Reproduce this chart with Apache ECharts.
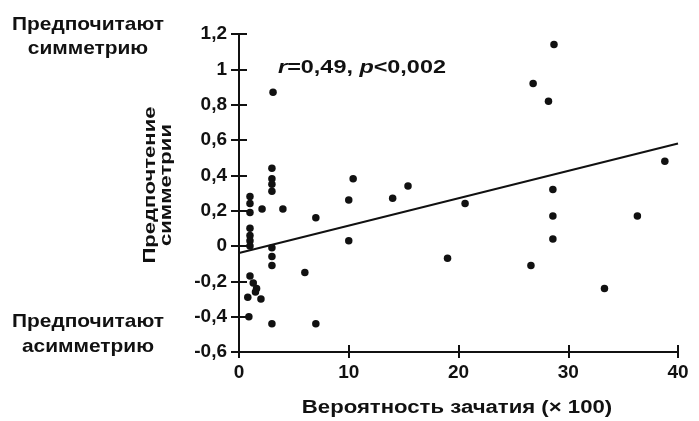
<!DOCTYPE html>
<html>
<head>
<meta charset="utf-8">
<script src="https://cdn.jsdelivr.net/npm/echarts@6/dist/echarts.min.js"></script>
<style>
  html, body { margin: 0; padding: 0; background: #fff; }
  #chart { width: 699px; height: 421px; }
</style>
</head>
<body>
<div id="chart"></div>
<script>
// probability of conception (x100) vs. symmetry preference
var xValues = [1.0, 1.0, 1.0, 1.0, 1.0, 1.0, 1.0,
               1.0, 1.3, 1.6, 0.8, 2.0, 1.5, 0.9,
               2.1, 4.0,
               3.1, 3.0, 3.0, 3.0, 3.0, 3.0, 3.0, 3.0, 3.0,
               6.0, 7.0, 7.0,
               10.0, 10.4, 10.0,
               14.0, 15.4, 19.0, 20.6,
               26.6, 26.8, 28.2, 28.7, 28.6, 28.6, 28.6,
               33.3, 36.3, 38.8];
var yValues = [0.28, 0.24, 0.19, 0.10, 0.06, 0.03, 0.00,
               -0.17, -0.21, -0.24, -0.29, -0.30, -0.26, -0.40,
               0.21, 0.21,
               0.87, 0.44, 0.38, 0.35, 0.31, -0.01, -0.06, -0.11, -0.44,
               -0.15, 0.16, -0.44,
               0.26, 0.38, 0.03,
               0.27, 0.34, -0.07, 0.24,
               -0.11, 0.92, 0.82, 1.14, 0.32, 0.17, 0.04,
               -0.24, 0.17, 0.48];
var fitX = [0, 40];
var fitY = [-0.04, 0.58];
var xTicks = [0, 10, 20, 30, 40];

var points = xValues.map(function (x, i) { return [x, yValues[i]]; });
var fitLine = fitX.map(function (x, i) { return [x, fitY[i]]; });

var font = '"Liberation Sans", Arial, sans-serif';
var ink = '#111';

var myChart = echarts.init(document.getElementById('chart'));

function yLabel(v) {
    return String(+v.toFixed(1)).replace('.', ',');
}

// scanned lettering is wider than the plain font, so texts get stretched a bit
function label(txt, x, y, size, sx, extra) {
    var st = { text: txt, fill: ink, font: 'bold ' + size + 'px ' + font, align: 'center', verticalAlign: 'middle' };
    for (var k in extra) st[k] = extra[k];
    return { type: 'text', x: x, y: y, scaleX: sx, z: 10, style: st };
}

var yName = label('Предпочтение\nсимметрии', 158, 185, 17, 1.3, { lineHeight: 16 });
yName.rotation = Math.PI / 2;

// second pair of axes only adds the inner half of the crossing ticks
var option = {
    backgroundColor: '#fff',
    animation: false,
    grid: { left: 239, top: 34, right: 21, bottom: 69 },
    xAxis: [{
        type: 'value', min: 0, max: 40, interval: 10,
        splitLine: { show: false },
        axisLine: { onZero: false, lineStyle: { color: ink, width: 2 } },
        axisTick: { length: 6, lineStyle: { color: ink, width: 2 } },
        axisLabel: {
            color: ink, fontSize: 19, fontWeight: 'bold', fontFamily: font, margin: 11,
            formatter: function (v) { return xTicks.indexOf(v) >= 0 ? String(v) : ''; }
        }
    }, {
        type: 'value', min: 0, max: 40, interval: 10, position: 'bottom',
        splitLine: { show: false },
        axisLine: { show: false, onZero: false },
        axisTick: { show: true, inside: true, length: 7, lineStyle: { color: ink, width: 2 } },
        axisLabel: { show: false }
    }],
    yAxis: [{
        type: 'value', min: -0.6, max: 1.2, interval: 0.2,
        splitLine: { show: false },
        axisLine: { onZero: false, lineStyle: { color: ink, width: 2 } },
        axisTick: { length: 8, lineStyle: { color: ink, width: 2 } },
        axisLabel: { color: ink, fontSize: 19, fontWeight: 'bold', fontFamily: font, margin: 12, formatter: yLabel }
    }, {
        type: 'value', min: -0.6, max: 1.2, interval: 0.2, position: 'left',
        splitLine: { show: false },
        axisLine: { show: false, onZero: false },
        axisTick: { show: true, inside: true, length: 8, lineStyle: { color: ink, width: 2 } },
        axisLabel: { show: false }
    }],
    graphic: [
        label('Предпочитают\nсимметрию', 88, 37, 19, 1.1, { lineHeight: 24 }),
        label('Предпочитают\nасимметрию', 88, 334, 19, 1.1, { lineHeight: 25 }),
        yName,
        label('Вероятность зачатия (× 100)', 457, 408, 18, 1.23, {}),
        label('{i|r}=0,49, {i|p}<0,002', 362, 68, 18, 1.3, {
            rich: { i: { fontStyle: 'italic', fontWeight: 'bold', fontSize: 18, fontFamily: font, fill: ink } }
        })
    ],
    series: [{
        type: 'scatter',
        data: points,
        symbolSize: 7.5,
        itemStyle: { color: ink, opacity: 1 },
        z: 3
    }, {
        type: 'line',
        xAxisIndex: 1,
        yAxisIndex: 1,
        data: fitLine,
        symbol: 'none',
        lineStyle: { color: ink, width: 2 },
        z: 2
    }]
};
myChart.setOption(option);
</script>
</body>
</html>
